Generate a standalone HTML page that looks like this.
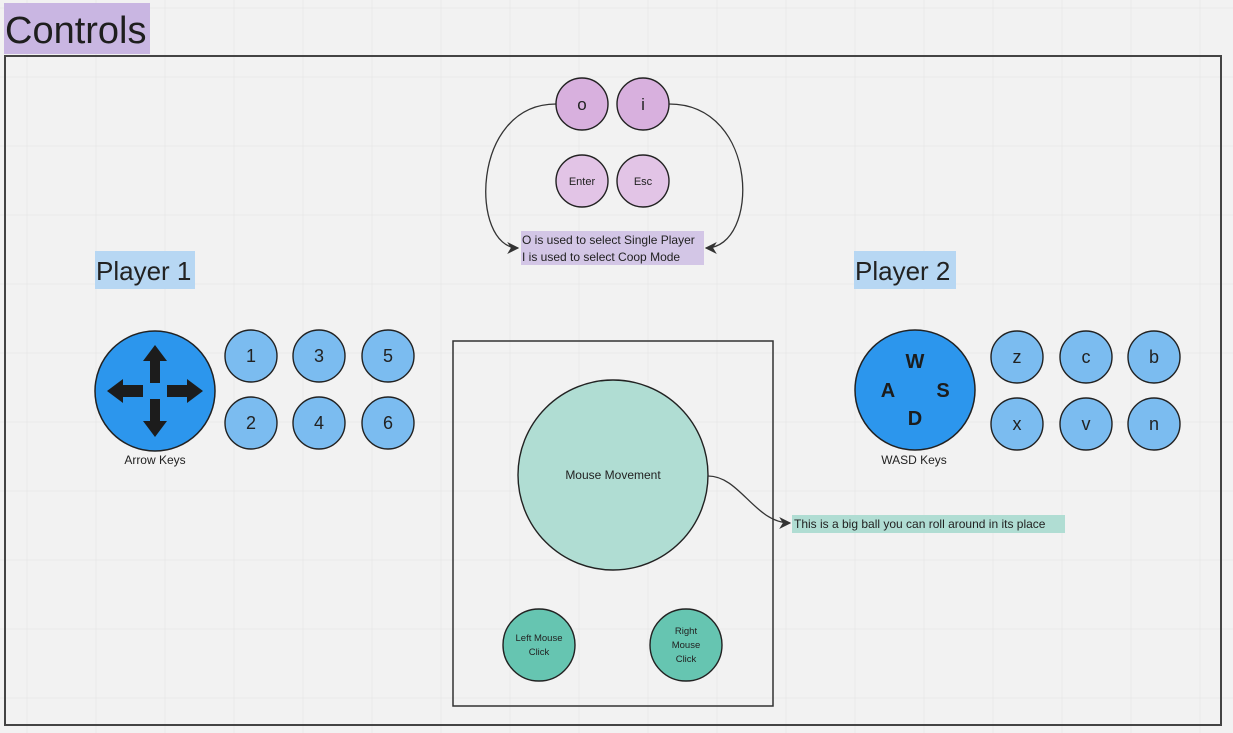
<!DOCTYPE html>
<html><head><meta charset="utf-8"><style>
html,body{margin:0;padding:0;background:#f2f2f2;}
svg{display:block;font-family:"Liberation Sans","DejaVu Sans",sans-serif;}
</style></head><body>
<svg width="1233" height="733" viewBox="0 0 1233 733" xmlns="http://www.w3.org/2000/svg">
<defs>
<marker id="ar" viewBox="0 0 10 10" refX="9" refY="5" markerWidth="12" markerHeight="12" markerUnits="userSpaceOnUse" orient="auto">
<path d="M0,0 L10,5 L0,10 L3,5 Z" fill="#333"/></marker>
</defs>
<rect width="1233" height="733" fill="#f2f2f2"/>
<g stroke="#e9e9e9" stroke-width="1">
<line x1="27" y1="0" x2="27" y2="733"/><line x1="96" y1="0" x2="96" y2="733"/><line x1="165" y1="0" x2="165" y2="733"/><line x1="234" y1="0" x2="234" y2="733"/><line x1="303" y1="0" x2="303" y2="733"/><line x1="372" y1="0" x2="372" y2="733"/><line x1="441" y1="0" x2="441" y2="733"/><line x1="510" y1="0" x2="510" y2="733"/><line x1="579" y1="0" x2="579" y2="733"/><line x1="648" y1="0" x2="648" y2="733"/><line x1="717" y1="0" x2="717" y2="733"/><line x1="786" y1="0" x2="786" y2="733"/><line x1="855" y1="0" x2="855" y2="733"/><line x1="924" y1="0" x2="924" y2="733"/><line x1="993" y1="0" x2="993" y2="733"/><line x1="1062" y1="0" x2="1062" y2="733"/><line x1="1131" y1="0" x2="1131" y2="733"/><line x1="1200" y1="0" x2="1200" y2="733"/>
<line x1="0" y1="8" x2="1233" y2="8"/><line x1="0" y1="77" x2="1233" y2="77"/><line x1="0" y1="146" x2="1233" y2="146"/><line x1="0" y1="215" x2="1233" y2="215"/><line x1="0" y1="284" x2="1233" y2="284"/><line x1="0" y1="353" x2="1233" y2="353"/><line x1="0" y1="422" x2="1233" y2="422"/><line x1="0" y1="491" x2="1233" y2="491"/><line x1="0" y1="560" x2="1233" y2="560"/><line x1="0" y1="629" x2="1233" y2="629"/><line x1="0" y1="698" x2="1233" y2="698"/>
</g>
<rect x="4" y="3" width="146" height="51" fill="#c9b6e2"/>
<text x="5" y="43" font-size="38" fill="#1e1e1e">Controls</text>
<rect x="5" y="56" width="1216" height="669" fill="none" stroke="#444" stroke-width="2"/>

<path d="M556,104 C470,104 470,248 518,248" fill="none" stroke="#333" stroke-width="1.3" marker-end="url(#ar)"/>
<path d="M669,104 C760,104 760,248 706,248" fill="none" stroke="#333" stroke-width="1.3" marker-end="url(#ar)"/>
<g stroke="#222" stroke-width="1.4">
<circle cx="582" cy="104" r="26" fill="#d8b0de"/>
<circle cx="643" cy="104" r="26" fill="#d8b0de"/>
<circle cx="582" cy="181" r="26" fill="#e2c4e6"/>
<circle cx="643" cy="181" r="26" fill="#e2c4e6"/>
</g>
<g text-anchor="middle" fill="#222">
<text x="582" y="110" font-size="17">o</text>
<text x="643" y="110" font-size="17">i</text>
<text x="582" y="185" font-size="11">Enter</text>
<text x="643" y="185" font-size="11">Esc</text>
</g>
<rect x="521" y="231" width="183" height="34" fill="#d3c6e6"/>
<text x="522" y="244" font-size="12" fill="#222">O is used to select Single Player</text>
<text x="522" y="261" font-size="12" fill="#222">I is used to select Coop Mode</text>

<rect x="95" y="251" width="100" height="38" fill="#b7d7f3"/>
<text x="96" y="280" font-size="26" fill="#222">Player 1</text>
<circle cx="155" cy="391" r="60" fill="#2c96ed" stroke="#222" stroke-width="1.5"/>
<g fill="#1c1c1c" transform="translate(155,391)">
<polygon points="-5,-8 5,-8 5,-30 12,-30 0,-46 -12,-30 -5,-30"/>
<polygon points="-5,8 5,8 5,30 12,30 0,46 -12,30 -5,30"/>
<polygon points="-12,-6 -12,6 -32,6 -32,12 -48,0 -32,-12 -32,-6"/>
<polygon points="12,-6 12,6 32,6 32,12 48,0 32,-12 32,-6"/>
</g>
<text x="155" y="464" font-size="12" text-anchor="middle" fill="#222">Arrow Keys</text>
<g stroke="#222" stroke-width="1.4" fill="#7bbcf0">
<circle cx="251" cy="356" r="26"/><circle cx="319" cy="356" r="26"/><circle cx="388" cy="356" r="26"/>
<circle cx="251" cy="423" r="26"/><circle cx="319" cy="423" r="26"/><circle cx="388" cy="423" r="26"/>
</g>
<g text-anchor="middle" font-size="18" fill="#222">
<text x="251" y="362">1</text><text x="319" y="362">3</text><text x="388" y="362">5</text>
<text x="251" y="429">2</text><text x="319" y="429">4</text><text x="388" y="429">6</text>
</g>

<rect x="854" y="251" width="102" height="38" fill="#b7d7f3"/>
<text x="855" y="280" font-size="26" fill="#222">Player 2</text>
<circle cx="915" cy="390" r="60" fill="#2c96ed" stroke="#222" stroke-width="1.5"/>
<g text-anchor="middle" font-size="20" font-weight="bold" fill="#1c1c1c">
<text x="915" y="368">W</text><text x="888" y="397">A</text><text x="943" y="397">S</text><text x="915" y="425">D</text>
</g>
<text x="914" y="464" font-size="12" text-anchor="middle" fill="#222">WASD Keys</text>
<g stroke="#222" stroke-width="1.4" fill="#7bbcf0">
<circle cx="1017" cy="357" r="26"/><circle cx="1086" cy="357" r="26"/><circle cx="1154" cy="357" r="26"/>
<circle cx="1017" cy="424" r="26"/><circle cx="1086" cy="424" r="26"/><circle cx="1154" cy="424" r="26"/>
</g>
<g text-anchor="middle" font-size="18" fill="#222">
<text x="1017" y="363">z</text><text x="1086" y="363">c</text><text x="1154" y="363">b</text>
<text x="1017" y="430">x</text><text x="1086" y="430">v</text><text x="1154" y="430">n</text>
</g>

<rect x="453" y="341" width="320" height="365" fill="none" stroke="#333" stroke-width="1.5"/>
<circle cx="613" cy="475" r="95" fill="#b0ddd3" stroke="#222" stroke-width="1.4"/>
<text x="613" y="479" font-size="12" text-anchor="middle" fill="#222">Mouse Movement</text>
<path d="M708,476 C740,476 755,523 790,523" fill="none" stroke="#333" stroke-width="1.3" marker-end="url(#ar)"/>
<rect x="792" y="515" width="273" height="18" fill="#b0ddd3"/>
<text x="794" y="528" font-size="12" fill="#222">This is a big ball you can roll around in its place</text>
<circle cx="539" cy="645" r="36" fill="#66c5b1" stroke="#222" stroke-width="1.4"/>
<circle cx="686" cy="645" r="36" fill="#66c5b1" stroke="#222" stroke-width="1.4"/>
<g text-anchor="middle" font-size="9.5" fill="#222">
<text x="539" y="641">Left Mouse</text><text x="539" y="655">Click</text>
<text x="686" y="634">Right</text><text x="686" y="648">Mouse</text><text x="686" y="662">Click</text>
</g>
</svg>
</body></html>
